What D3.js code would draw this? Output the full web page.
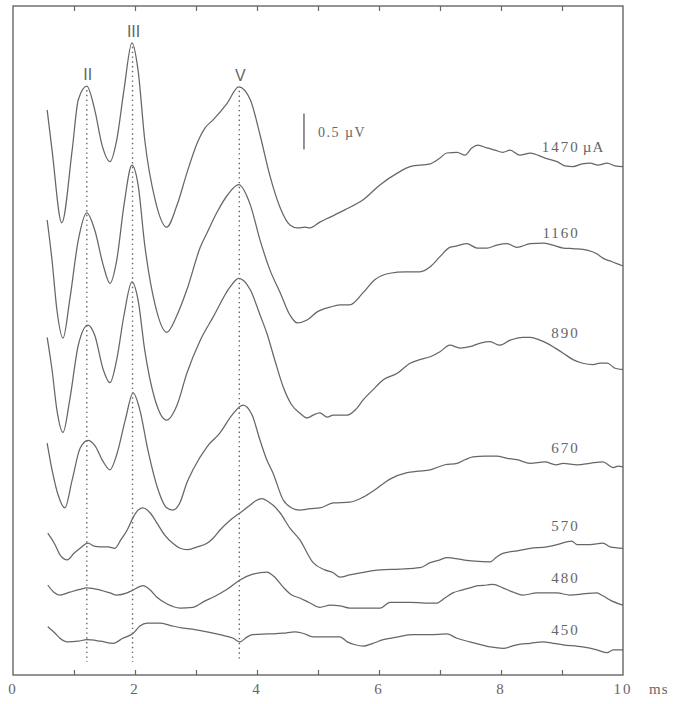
<!DOCTYPE html>
<html>
<head>
<meta charset="utf-8">
<script src="https://cdn.jsdelivr.net/npm/d3@7"></script>
<style>
  html, body { margin: 0; padding: 0; background: #fff; }
  #app { width: 675px; height: 704px; }
</style>
</head>
<body>
<div id="app"></div>
<script>
// Stimulus currents (µA) and the vertical offset (µV) each trace is stacked at
const currents = [1470, 1160, 890, 670, 570, 480, 450];
const offsets  = [7.0, 5.5, 4.0, 2.5, 1.5, 1.0, 0.5];

// Wave peaks marked with dotted lines (ms)
const peakNames = ["II", "III", "V"];
const peakTimes = [1.21, 1.96, 3.71];

const xTicks = [0, 1, 2, 3, 4, 5, 6, 7, 8, 9, 10];
const xTickLabels = [0, 2, 4, 6, 8, 10];

// Traces as [ms, µV], relative to each trace offset
const trace1470 = [[0.56,0.85],[0.64,0.29],[0.80,-0.72],[0.97,0.29],[1.07,0.99],[1.21,1.18],[1.34,0.85],[1.46,0.36],[1.59,0.13],
  [1.70,0.43],[1.82,1.13],[1.95,1.78],[2.05,1.40],[2.16,0.43],[2.33,-0.40],[2.52,-0.78],[2.69,-0.47],[2.85,-0.03],[3.02,0.39],
  [3.15,0.60],[3.28,0.71],[3.51,0.94],[3.70,1.17],[3.89,0.99],[4.05,0.50],[4.21,-0.06],[4.38,-0.51],[4.54,-0.75],[4.66,-0.79],
  [4.79,-0.78],[4.87,-0.79],[5.03,-0.71],[5.20,-0.64],[5.44,-0.54],[5.74,-0.40],[6.02,-0.19],[6.30,-0.03],[6.51,0.06],[6.84,0.10],
  [7.00,0.18],[7.11,0.25],[7.28,0.26],[7.41,0.22],[7.52,0.32],[7.62,0.36],[7.77,0.32],[7.90,0.29],[8.03,0.26],[8.15,0.29],
  [8.31,0.22],[8.48,0.25],[8.72,0.18],[8.92,0.13],[9.05,0.07],[9.18,0.06],[9.33,0.10],[9.46,0.11],[9.59,0.08],[9.74,0.11],
  [9.87,0.07],[10,0.06]];
const trace1160 = [[0.56,0.82],[0.64,0.26],[0.72,-0.43],[0.82,-0.82],[0.93,-0.29],[1.07,0.54],[1.21,0.92],[1.34,0.68],[1.48,0.19],
  [1.59,-0.06],[1.70,0.26],[1.82,1.03],[1.95,1.58],[2.05,1.31],[2.16,0.47],[2.33,-0.36],[2.52,-0.74],[2.69,-0.50],[2.85,-0.15],
  [3.07,0.44],[3.18,0.64],[3.34,0.92],[3.52,1.17],[3.70,1.31],[3.89,1.03],[4.05,0.54],[4.21,0.13],[4.38,-0.19],[4.54,-0.50],
  [4.66,-0.61],[4.82,-0.57],[4.98,-0.46],[5.20,-0.39],[5.36,-0.36],[5.52,-0.36],[5.74,-0.19],[5.93,-0.01],[6.18,0.08],[6.43,0.10],
  [6.67,0.10],[6.84,0.17],[7.00,0.31],[7.16,0.44],[7.28,0.46],[7.44,0.49],[7.61,0.43],[7.77,0.43],[7.93,0.47],[8.10,0.49],
  [8.26,0.44],[8.48,0.49],[8.69,0.50],[8.85,0.47],[9.02,0.43],[9.21,0.42],[9.41,0.40],[9.57,0.35],[9.67,0.29],[9.82,0.24],[10,0.18]];
const trace890 = [[0.56,0.69],[0.64,0.24],[0.72,-0.32],[0.82,-0.63],[0.93,-0.18],[1.07,0.58],[1.23,0.86],[1.34,0.72],[1.48,0.24],
  [1.59,0.06],[1.70,0.38],[1.82,1.00],[1.95,1.46],[2.05,1.21],[2.16,0.51],[2.33,-0.18],[2.52,-0.46],[2.69,-0.25],[2.85,0.19],
  [3.07,0.65],[3.28,0.97],[3.56,1.39],[3.70,1.51],[3.89,1.35],[4.05,1.00],[4.16,0.75],[4.30,0.35],[4.43,0.00],[4.57,-0.25],
  [4.70,-0.36],[4.82,-0.43],[4.92,-0.39],[5.03,-0.36],[5.15,-0.42],[5.25,-0.39],[5.48,-0.39],[5.61,-0.32],[5.74,-0.18],[5.90,-0.04],
  [6.07,0.10],[6.30,0.19],[6.51,0.33],[6.67,0.38],[6.84,0.42],[7.00,0.49],[7.16,0.58],[7.33,0.54],[7.49,0.56],[7.66,0.61],
  [7.82,0.63],[7.98,0.58],[8.15,0.65],[8.36,0.69],[8.48,0.69],[8.64,0.65],[8.75,0.61],[8.89,0.54],[9.02,0.47],[9.18,0.38],
  [9.34,0.33],[9.51,0.31],[9.62,0.33],[9.74,0.33],[9.87,0.26],[10,0.24]];
const trace670 = [[0.56,0.72],[0.64,0.35],[0.74,0.00],[0.85,-0.18],[0.97,0.21],[1.10,0.65],[1.23,0.76],[1.34,0.69],[1.48,0.46],
  [1.59,0.35],[1.70,0.56],[1.84,1.04],[1.97,1.42],[2.08,1.18],[2.21,0.63],[2.38,0.07],[2.51,-0.17],[2.62,-0.21],[2.74,-0.10],
  [2.85,0.17],[2.95,0.35],[3.18,0.67],[3.39,0.86],[3.59,1.11],[3.77,1.25],[3.92,1.11],[4.05,0.76],[4.16,0.49],[4.26,0.31],
  [4.43,-0.07],[4.57,-0.18],[4.70,-0.21],[4.87,-0.19],[5.03,-0.18],[5.25,-0.11],[5.52,-0.10],[5.74,-0.03],[5.93,0.07],[6.18,0.22],
  [6.46,0.31],[6.64,0.33],[6.84,0.35],[7.08,0.42],[7.28,0.44],[7.41,0.49],[7.54,0.53],[7.74,0.54],[7.93,0.54],[8.10,0.51],
  [8.26,0.49],[8.48,0.44],[8.72,0.46],[8.90,0.42],[9.02,0.44],[9.25,0.42],[9.46,0.44],[9.67,0.46],[9.79,0.40],[9.84,0.38],
  [9.92,0.40],[10,0.39]];
const trace570 = [[0.57,0.47],[0.69,0.31],[0.77,0.17],[0.89,0.10],[1.00,0.19],[1.10,0.26],[1.23,0.33],[1.33,0.29],[1.43,0.28],
  [1.56,0.28],[1.67,0.26],[1.77,0.38],[1.87,0.51],[1.97,0.69],[2.05,0.79],[2.13,0.82],[2.25,0.75],[2.36,0.61],[2.49,0.44],
  [2.62,0.33],[2.74,0.26],[2.85,0.24],[3.02,0.28],[3.18,0.33],[3.28,0.40],[3.39,0.51],[3.56,0.65],[3.72,0.75],[3.89,0.86],
  [3.98,0.92],[4.08,0.95],[4.18,0.91],[4.26,0.86],[4.38,0.75],[4.54,0.54],[4.70,0.38],[4.92,0.06],[5.11,-0.04],[5.25,-0.08],[5.36,-0.14],
  [5.52,-0.11],[5.77,-0.07],[6.02,-0.04],[6.34,-0.03],[6.67,-0.01],[6.84,0.06],[7.00,0.10],[7.11,0.13],[7.38,0.10],[7.57,0.08],
  [7.82,0.07],[7.93,0.14],[8.03,0.19],[8.23,0.22],[8.48,0.26],[8.75,0.28],[8.92,0.31],[9.08,0.35],[9.16,0.36],[9.25,0.31],
  [9.46,0.31],[9.67,0.33],[9.79,0.28],[10,0.26]];
const trace480 = [[0.57,0.25],[0.67,0.15],[0.77,0.11],[0.93,0.15],[1.10,0.19],[1.21,0.21],[1.43,0.18],[1.59,0.14],[1.70,0.11],
  [1.87,0.14],[1.97,0.18],[2.13,0.24],[2.25,0.18],[2.36,0.08],[2.52,-0.01],[2.74,-0.07],[2.95,-0.06],[3.15,0.03],[3.28,0.08],
  [3.51,0.19],[3.72,0.32],[3.93,0.40],[4.16,0.43],[4.30,0.35],[4.43,0.22],[4.57,0.11],[4.70,0.07],[4.87,0.00],[5.03,-0.06],
  [5.20,-0.03],[5.36,-0.04],[5.52,-0.07],[5.77,-0.07],[6.02,-0.07],[6.18,0.01],[6.51,0.01],[6.75,0.00],[6.95,0.00],[7.08,0.07],
  [7.21,0.14],[7.36,0.18],[7.49,0.21],[7.62,0.24],[7.77,0.25],[7.87,0.26],[8.03,0.21],[8.20,0.15],[8.36,0.11],[8.59,0.14],
  [8.92,0.14],[9.13,0.11],[9.38,0.13],[9.57,0.14],[9.67,0.10],[9.79,0.04],[10,-0.03]];
const trace450 = [[0.57,0.17],[0.69,0.08],[0.77,0.01],[0.89,-0.04],[1.07,-0.03],[1.21,-0.01],[1.43,-0.03],[1.64,-0.06],[1.80,0.01],
  [1.97,0.08],[2.08,0.18],[2.20,0.22],[2.41,0.22],[2.57,0.19],[2.79,0.15],[2.98,0.13],[3.18,0.10],[3.39,0.06],[3.61,0.01],
  [3.72,-0.04],[3.84,0.03],[3.93,0.06],[4.18,0.07],[4.43,0.08],[4.62,0.10],[4.75,0.08],[4.92,0.03],[5.11,0.03],[5.36,0.03],
  [5.48,-0.04],[5.61,-0.08],[5.74,-0.10],[5.90,-0.06],[6.07,-0.01],[6.31,0.03],[6.56,0.06],[6.84,0.06],[7.11,0.07],[7.28,0.01],
  [7.49,-0.04],[7.82,-0.11],[8.03,-0.13],[8.26,-0.08],[8.48,-0.06],[8.69,-0.04],[8.85,-0.06],[9.02,-0.08],[9.34,-0.11],
  [9.57,-0.15],[9.74,-0.19],[9.84,-0.15],[10,-0.15]];

const traces = [trace1470, trace1160, trace890, trace670, trace570, trace480, trace450];


function drawPlot(targetDiv) {
  const element = d3.select(targetDiv);
  const width  = 675;
  const height = 704;
  const frame = {left: 13, right: 623, top: 6, bottom: 675};
  const ink = "#666";

  const svg = d3.create("svg")
    .attr("width", width)
    .attr("height", height)
    .attr("viewBox", [0, 0, width, height]);

  const x = d3.scaleLinear()
    .domain([0, 10])
    .range([frame.left, frame.right]);

  // 72 px per µV, zero at the bottom of the frame
  const y = d3.scaleLinear()
    .domain([0, (frame.bottom - frame.top) / 72])
    .range([frame.bottom, frame.top]);

  // Frame
  svg.append("rect")
    .attr("x", frame.left).attr("y", frame.top)
    .attr("width", frame.right - frame.left)
    .attr("height", frame.bottom - frame.top)
    .attr("fill", "none")
    .attr("stroke", ink)
    .attr("stroke-width", 1.4);

  // Inward ticks on top and bottom
  const inner = xTicks.slice(1, -1);
  svg.append("g")
    .attr("transform", `translate(0, ${frame.bottom})`)
    .call(d3.axisTop(x).tickValues(inner).tickSize(5).tickFormat(""))
    .call(g => g.select(".domain").remove());
  svg.append("g")
    .attr("transform", `translate(0, ${frame.top})`)
    .call(d3.axisBottom(x).tickValues(inner).tickSize(5).tickFormat(""))
    .call(g => g.select(".domain").remove());
  svg.selectAll(".tick line").attr("stroke", ink).attr("stroke-width", 1.2);

  // Tick labels
  svg.append("g")
    .selectAll("text")
    .data(xTickLabels)
    .join("text")
      .attr("x", d => x(d))
      .attr("y", 694)
      .attr("text-anchor", "middle")
      .attr("font-family", "Liberation Serif, serif")
      .attr("font-size", 15)
      .attr("letter-spacing", 2)
      .attr("fill", ink)
      .text(d => d);
  svg.append("text")
    .attr("x", x(10) + 26)
    .attr("y", 694)
    .attr("font-family", "Liberation Serif, serif")
    .attr("font-size", 15)
    .attr("letter-spacing", 1)
    .attr("fill", ink)
    .text("ms");

  // Dotted peak markers, from the top trace down near the axis
  const topTrace = traces[0];
  const peakLevel = t => {
    const near = topTrace.reduce((a, b) => Math.abs(b[0] - t) < Math.abs(a[0] - t) ? b : a);
    return offsets[0] + near[1];
  };
  svg.append("g")
    .selectAll("line")
    .data(peakTimes)
    .join("line")
      .attr("x1", d => x(d)).attr("x2", d => x(d))
      .attr("y1", d => y(peakLevel(d)) + 4)
      .attr("y2", y(0.18))
      .attr("stroke", ink)
      .attr("stroke-width", 1.4)
      .attr("stroke-dasharray", "1.4,3.4");

  svg.append("g")
    .selectAll("text")
    .data(peakTimes)
    .join("text")
      .attr("x", d => x(d) + 1)
      .attr("y", d => y(peakLevel(d)) - 6)
      .attr("text-anchor", "middle")
      .attr("font-family", "Liberation Sans, sans-serif")
      .attr("font-size", 16)
      .attr("fill", ink)
      .text((d, i) => peakNames[i]);

  // Traces
  const line = d3.line()
    .x(d => x(d[0]))
    .y(d => y(d[1]))
    .curve(d3.curveMonotoneX);

  svg.append("g")
    .selectAll("path")
    .data(traces)
    .join("path")
      .attr("d", (d, i) => line(d.map(p => [p[0], p[1] + offsets[i]])))
      .attr("fill", "none")
      .attr("stroke", ink)
      .attr("stroke-width", 1.25)
      .attr("stroke-linejoin", "round");

  // Current labels sit just above the trace near its right end
  const labelT = 9.26;
  const labelLevel = (d, i) => offsets[i] + d3.max(d.filter(p => p[0] >= 8.88 && p[0] <= 9.6), p => p[1]);
  svg.append("g")
    .selectAll("text")
    .data(traces)
    .join("text")
      .attr("x", x(labelT) + 2)
      .attr("y", (d, i) => y(labelLevel(d, i)) - 10)
      .attr("text-anchor", "end")
      .attr("font-family", "Liberation Serif, serif")
      .attr("font-size", 15)
      .attr("letter-spacing", 2)
      .attr("fill", ink)
      .text((d, i) => currents[i]);
  svg.append("text")
    .attr("x", x(labelT) + 5)
    .attr("y", y(labelLevel(traces[0], 0)) - 10)
    .attr("font-family", "Liberation Serif, serif")
    .attr("font-size", 15)
    .attr("letter-spacing", 1)
    .attr("fill", ink)
    .text("µA");

  // 0.5 µV scale bar
  const barT = 4.77;
  const barBase = 7.3;
  svg.append("line")
    .attr("x1", x(barT)).attr("x2", x(barT))
    .attr("y1", y(barBase)).attr("y2", y(barBase + 0.5))
    .attr("stroke", ink)
    .attr("stroke-width", 1.4);
  svg.append("text")
    .attr("x", x(barT) + 14)
    .attr("y", y(barBase) - 12)
    .attr("font-family", "Liberation Serif, serif")
    .attr("font-size", 14)
    .attr("letter-spacing", 1.5)
    .attr("fill", ink)
    .text("0.5 µV");

  element.node().append(svg.node());
}


function main() {
  drawPlot("#app");
}


document.addEventListener("DOMContentLoaded", main);
</script>
</body>
</html>
